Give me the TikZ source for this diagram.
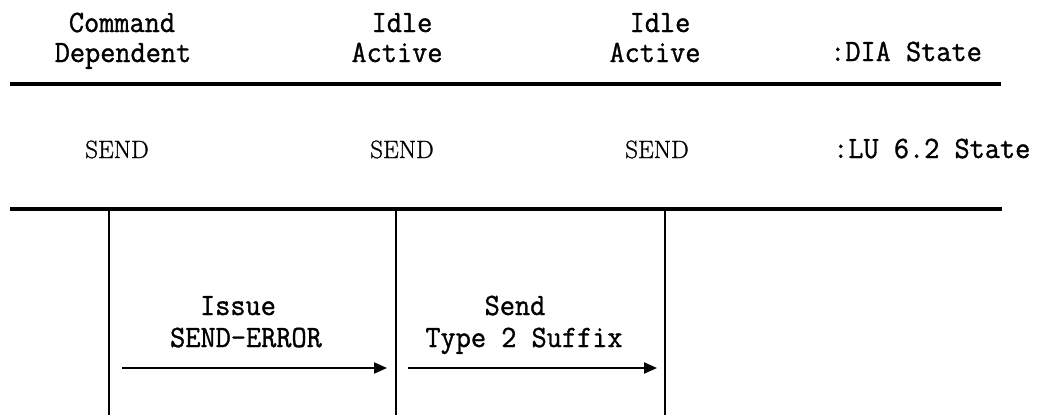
\documentclass[tikz,border=0pt]{standalone}
\usepackage{fontspec}
\usetikzlibrary{arrows.meta}
\newfontfamily\tw{Latin Modern Mono}[FakeBold=1.1,FakeStretch=0.95]
\newfontfamily\rmst{Latin Modern Roman}[FakeBold=1.0]
\begin{document}
\begin{tikzpicture}[x=1pt,y=-1pt,
  txt/.style={font=\tw\fontsize{31}{31}\selectfont, inner sep=0pt, anchor=base},
  statelbl/.style={font=\rmst\fontsize{25}{27}\selectfont, inner sep=0pt, anchor=base},
  rule/.style={line width=3.2pt},
  lane/.style={line width=1.7pt},
  flow/.style={line width=2pt, -{Triangle[length=13pt,width=11pt]}}]
\useasboundingbox (0,0) rectangle (1041,415);

% DIA state row
\node[txt] (dia1a) at (122,32) {Command};
\node[txt] (dia1b) at (123,62) {Dependent};
\node[txt] (dia2a) at (402,32) {Idle};
\node[txt] (dia2b) at (397,62) {Active};
\node[txt] (dia3a) at (660,32) {Idle};
\node[txt] (dia3b) at (655,62) {Active};
\node[txt, anchor=base west] (dialbl) at (830,61) {:DIA State};

% upper rule
\coordinate (r1l) at (10,84);
\coordinate (r1r) at (1001,84);
\draw[rule] (r1l) -- (r1r);

% LU 6.2 state row
\node[statelbl] (lu1) at (117,158) {SEND};
\node[statelbl] (lu2) at (402,158) {SEND};
\node[statelbl] (lu3) at (657,158) {SEND};
\node[txt, anchor=base west] (lulbl) at (833,158) {:LU 6.2 State};

% lower rule
\coordinate (r2l) at (10,209);
\coordinate (r2r) at (1002,209);
\draw[rule] (r2l) -- (r2r);

% lanes
\coordinate (v1t) at (109,209); \coordinate (v1b) at (109,415);
\coordinate (v2t) at (396,209); \coordinate (v2b) at (396,415);
\coordinate (v3t) at (665,209); \coordinate (v3b) at (665,415);
\draw[lane] (v1t) -- (v1b);
\draw[lane] (v2t) -- (v2b);
\draw[lane] (v3t) -- (v3b);

% actions
\node[txt] (act1a) at (238,315) {Issue};
\node[txt] (act1b) at (246,347) {SEND-ERROR};
\node[txt] (act2a) at (515,315) {Send};
\node[txt] (act2b) at (524,347) {Type 2 Suffix};
\coordinate (a1s) at (122,368); \coordinate (a1e) at (387,368);
\coordinate (a2s) at (408,368); \coordinate (a2e) at (657,368);
\draw[flow] (a1s) -- (a1e);
\draw[flow] (a2s) -- (a2e);
\end{tikzpicture}
\end{document}
